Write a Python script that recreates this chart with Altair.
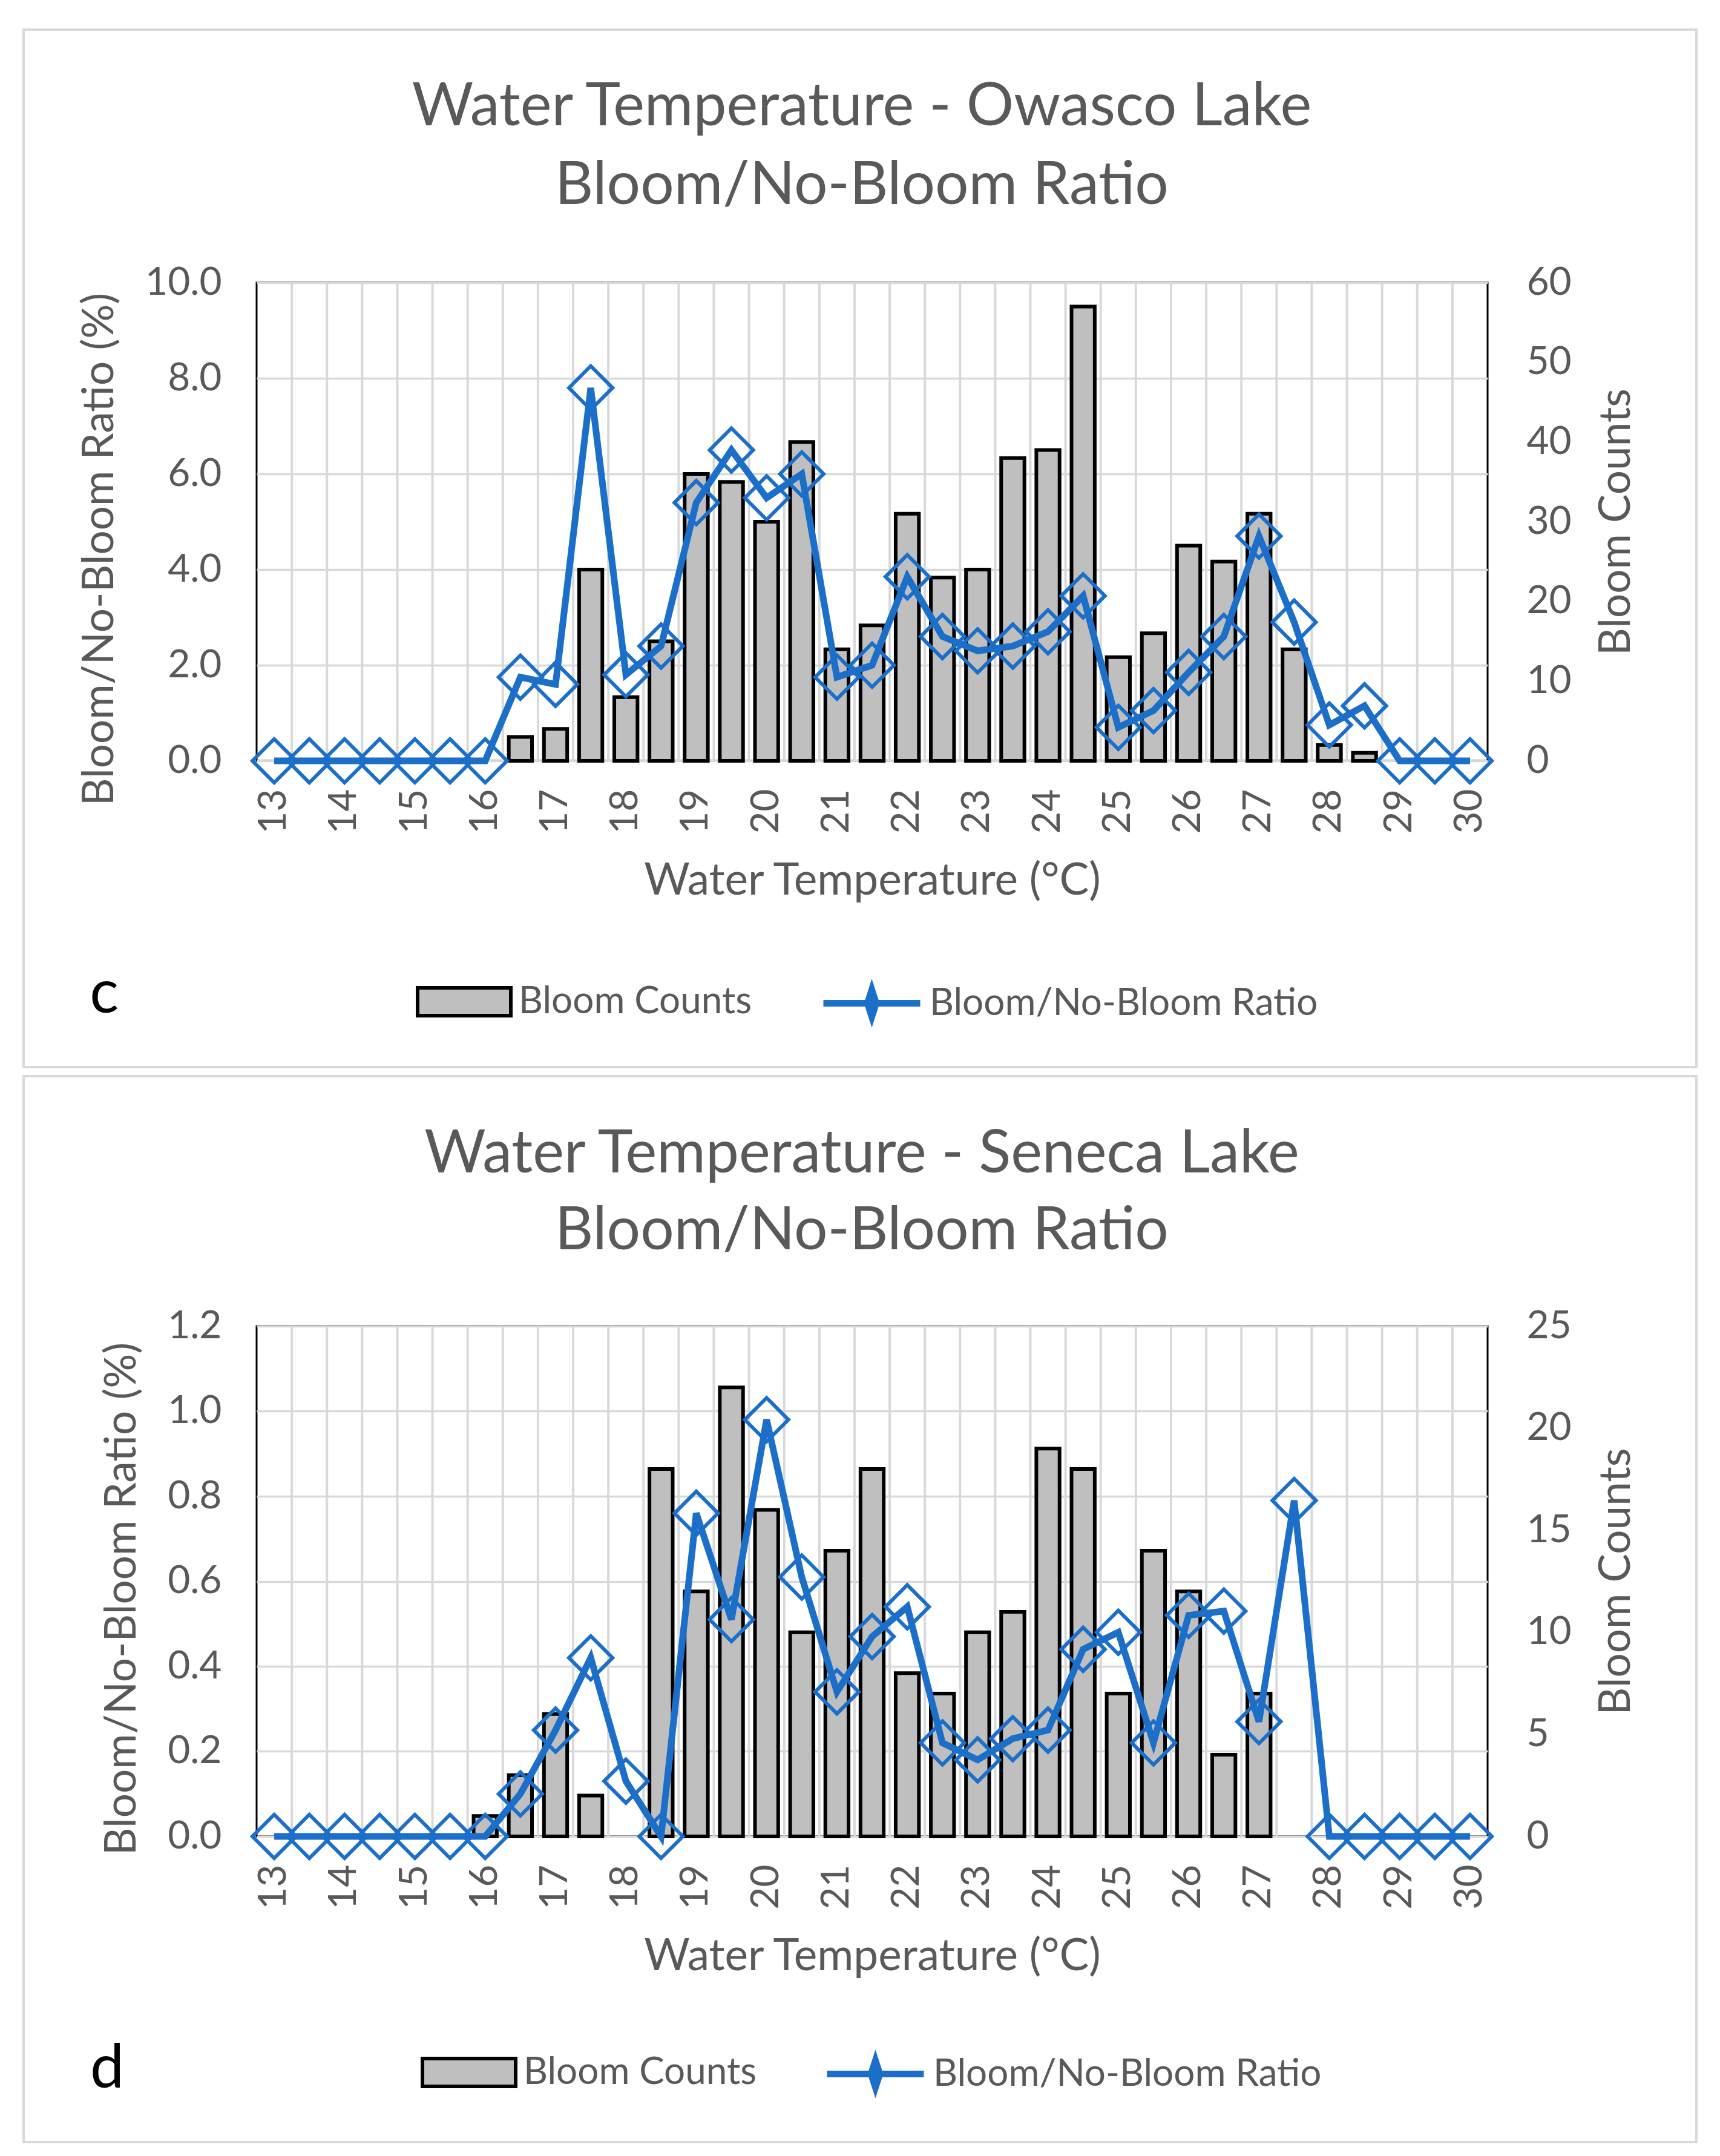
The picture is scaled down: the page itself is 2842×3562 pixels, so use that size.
import altair as alt
import pandas as pd

temps = ["13", "13.5", "14", "14.5", "15", "15.5", "16", "16.5", "17", "17.5",
         "18", "18.5", "19", "19.5", "20", "20.5", "21", "21.5", "22", "22.5",
         "23", "23.5", "24", "24.5", "25", "25.5", "26", "26.5", "27", "27.5",
         "28", "28.5", "29", "29.5", "30"]

owasco_counts = [0, 0, 0, 0, 0, 0, 0, 3, 4, 24,
                 8, 15, 36, 35, 30, 40, 14, 17, 31, 23,
                 24, 38, 39, 57, 13, 16, 27, 25, 31, 14,
                 2, 1, 0, 0, 0]
owasco_ratio = [0, 0, 0, 0, 0, 0, 0, 1.75, 1.6, 7.8,
                1.8, 2.4, 5.4, 6.5, 5.5, 6.0, 1.75, 2.0, 3.85, 2.6,
                2.3, 2.4, 2.7, 3.45, 0.7, 1.05, 1.85, 2.6, 4.7, 2.9,
                0.75, 1.15, 0, 0, 0]

seneca_counts = [0, 0, 0, 0, 0, 0, 1, 3, 6, 2,
                 0, 18, 12, 22, 16, 10, 14, 18, 8, 7,
                 10, 11, 19, 18, 7, 14, 12, 4, 7, 0,
                 0, 0, 0, 0, 0]
seneca_ratio = [0, 0, 0, 0, 0, 0, 0, 0.10, 0.25, 0.42,
                0.13, 0, 0.76, 0.51, 0.98, 0.61, 0.34, 0.47, 0.54, 0.22,
                0.18, 0.23, 0.25, 0.44, 0.48, 0.22, 0.52, 0.53, 0.27, 0.79,
                0, 0, 0, 0, 0]

owasco_ratio_ticks = [0, 2, 4, 6, 8, 10]
owasco_count_ticks = [0, 10, 20, 30, 40, 50, 60]
seneca_ratio_ticks = [0, 0.2, 0.4, 0.6, 0.8, 1.0, 1.2]
seneca_count_ticks = [0, 5, 10, 15, 20, 25]

BAR_LABEL = "Bloom Counts"
LINE_LABEL = "Bloom/No-Bloom Ratio"

BLUE = "#1c6fc8"
BAR_GRAY = "#bfbfbf"
GRID = "#d9d9d9"
TXT = "#595959"
FONT = "Lato"


def panel(counts, ratio, ratio_ticks, count_ticks, title1, title2, letter, g):
    df = pd.DataFrame({"temp": temps, "counts": counts, "ratio": ratio})
    df["bar_series"] = BAR_LABEL
    df["line_series"] = LINE_LABEL
    grid_df = pd.DataFrame({"temp": temps[1:]})
    one = pd.DataFrame({"k": [0]})

    x_scale = alt.Scale(domain=temps, paddingInner=0, paddingOuter=0)
    x_axis = alt.Axis(
        title="Water Temperature (°C)",
        titleFontSize=73,
        labelAngle=270,
        labelExpr="indexof(datum.label, '.') >= 0 ? '' : datum.label",
        labelOverlap=False,
        labelPadding=g["xlabpad"],
        titlePadding=g["xtitlepad"],
        grid=False,
    )

    def X(**kw):
        return alt.X("temp:N", sort=temps, scale=x_scale, axis=x_axis, **kw)

    frame = alt.Chart(one).mark_rect(
        fillOpacity=0, stroke=GRID, strokeWidth=4
    ).encode(
        x=alt.value(g["fx"]), x2=alt.value(g["fx2"]),
        y=alt.value(g["fy"]), y2=alt.value(g["fy2"]),
    )

    vgrid = alt.Chart(grid_df).mark_rule(color=GRID, strokeWidth=4).encode(
        x=X(bandPosition=0)
    )

    ratio_y = alt.Y(
        "ratio:Q",
        scale=alt.Scale(domain=[ratio_ticks[0], ratio_ticks[-1]], nice=False),
        axis=alt.Axis(
            orient="left", values=ratio_ticks, format=".1f",
            grid=True, gridColor=GRID, gridWidth=3.5,
            title="Bloom/No-Bloom Ratio (%)", titleY=g["ltitley"],
            labelPadding=g["llabpad"], titlePadding=g["ltitlepad"],
        ),
    )
    ratio_stroke = alt.Stroke(
        "line_series:N",
        scale=alt.Scale(domain=[LINE_LABEL], range=[BLUE]),
        legend=alt.Legend(
            title=None, orient="none",
            legendX=g["lsx"], legendY=g["lsy"],
            symbolType="M-1,0L1,0M0,-0.28L0.09,0L0,0.28L-0.09,0Z",
            symbolSize=25600,
            symbolStrokeWidth=11,
            labelOffset=10,
        ),
    )

    bars = alt.Chart(df).transform_filter("datum.counts > 0").mark_bar(
        width={"band": 0.66}, stroke="black", strokeWidth=6
    ).encode(
        x=X(),
        y=alt.Y(
            "counts:Q",
            scale=alt.Scale(domain=[count_ticks[0], count_ticks[-1]], nice=False),
            axis=alt.Axis(
                orient="right", values=count_ticks, format="d", grid=False,
                title="Bloom Counts", titleAngle=270, titleBaseline="top",
                labelPadding=g["rlabpad"], titlePadding=g["rtitlepad"],
            ),
        ),
        fill=alt.Fill(
            "bar_series:N",
            scale=alt.Scale(domain=[BAR_LABEL], range=[BAR_GRAY]),
            legend=alt.Legend(
                title=None, orient="none",
                legendX=g["lfx"], legendY=g["lfy"],
                symbolType="M-1,-0.3L1,-0.3L1,0.3L-1,0.3Z",
                symbolSize=23716,
                symbolStrokeColor="black",
                symbolStrokeWidth=6,
                labelOffset=10,
            ),
        ),
    )

    points = alt.Chart(df).mark_point(
        shape="diamond", filled=False, size=5200, strokeWidth=6, opacity=1
    ).encode(x=X(), y=ratio_y, stroke=ratio_stroke)

    line = alt.Chart(df).mark_line(strokeWidth=11).encode(
        x=X(), y=ratio_y, stroke=ratio_stroke
    )

    ratio_layer = alt.layer(points, line)

    def text(value, x, y, size, color):
        return alt.Chart(one).mark_text(
            font=FONT, fontSize=size, color=color, align="center", baseline="middle"
        ).encode(x=alt.value(x), y=alt.value(y), text=alt.value(value))

    t1 = text(title1, g["tx"], g["t1y"], 98, TXT)
    t2 = text(title2, g["tx"], g["t2y"], 98, TXT)
    lt = text(letter, g["cx"], g["cy"], 100, "black")

    return alt.layer(frame, vgrid, bars, ratio_layer, t1, t2, lt).resolve_scale(
        y="independent"
    ).properties(width=g["w"], height=g["h"])


g_top = dict(w=2034, h=790, fx=-385, fx2=2379, fy=-418, fy2=1296,
             tx=1000, t1y=-289, t2y=-159, cx=-252, cy=1176,
             lfx=263, lfy=1108, lsx=931, lsy=1105,
             xlabpad=46, xtitlepad=42, llabpad=58, ltitlepad=38, ltitley=440,
             rlabpad=64, rtitlepad=40)
g_bot = dict(w=2034, h=843, fx=-385, fx2=2379, fy=-413, fy2=1348,
             tx=1000, t1y=-283, t2y=-156, cx=-247, cy=1228,
             lfx=271, lfy=1153, lsx=937, lsy=1150,
             xlabpad=46, xtitlepad=42, llabpad=58, ltitlepad=38, ltitley=450,
             rlabpad=64, rtitlepad=40)

top = panel(owasco_counts, owasco_ratio, owasco_ratio_ticks, owasco_count_ticks,
            "Water Temperature - Owasco Lake", "Bloom/No-Bloom Ratio", "c", g_top)
bottom = panel(seneca_counts, seneca_ratio, seneca_ratio_ticks, seneca_count_ticks,
               "Water Temperature - Seneca Lake", "Bloom/No-Bloom Ratio", "d", g_bot)

chart = alt.vconcat(top, bottom, spacing=7).resolve_scale(
    fill="independent", stroke="independent"
).properties(
    padding={"left": 27, "top": 37, "right": 5, "bottom": 5},
    background="white",
).configure_view(
    stroke="black", strokeWidth=3
).configure_axis(
    labelFont=FONT, titleFont=FONT, labelColor=TXT, titleColor=TXT,
    labelFontSize=64, titleFontSize=71, titleFontWeight="normal",
    domain=False, ticks=False, tickSize=0,
).configure_legend(
    labelFont=FONT, labelFontSize=62, labelColor=TXT, labelLimit=0, padding=0,
)

chart.save("out.html", embed_options={"renderer": "svg", "actions": False})
